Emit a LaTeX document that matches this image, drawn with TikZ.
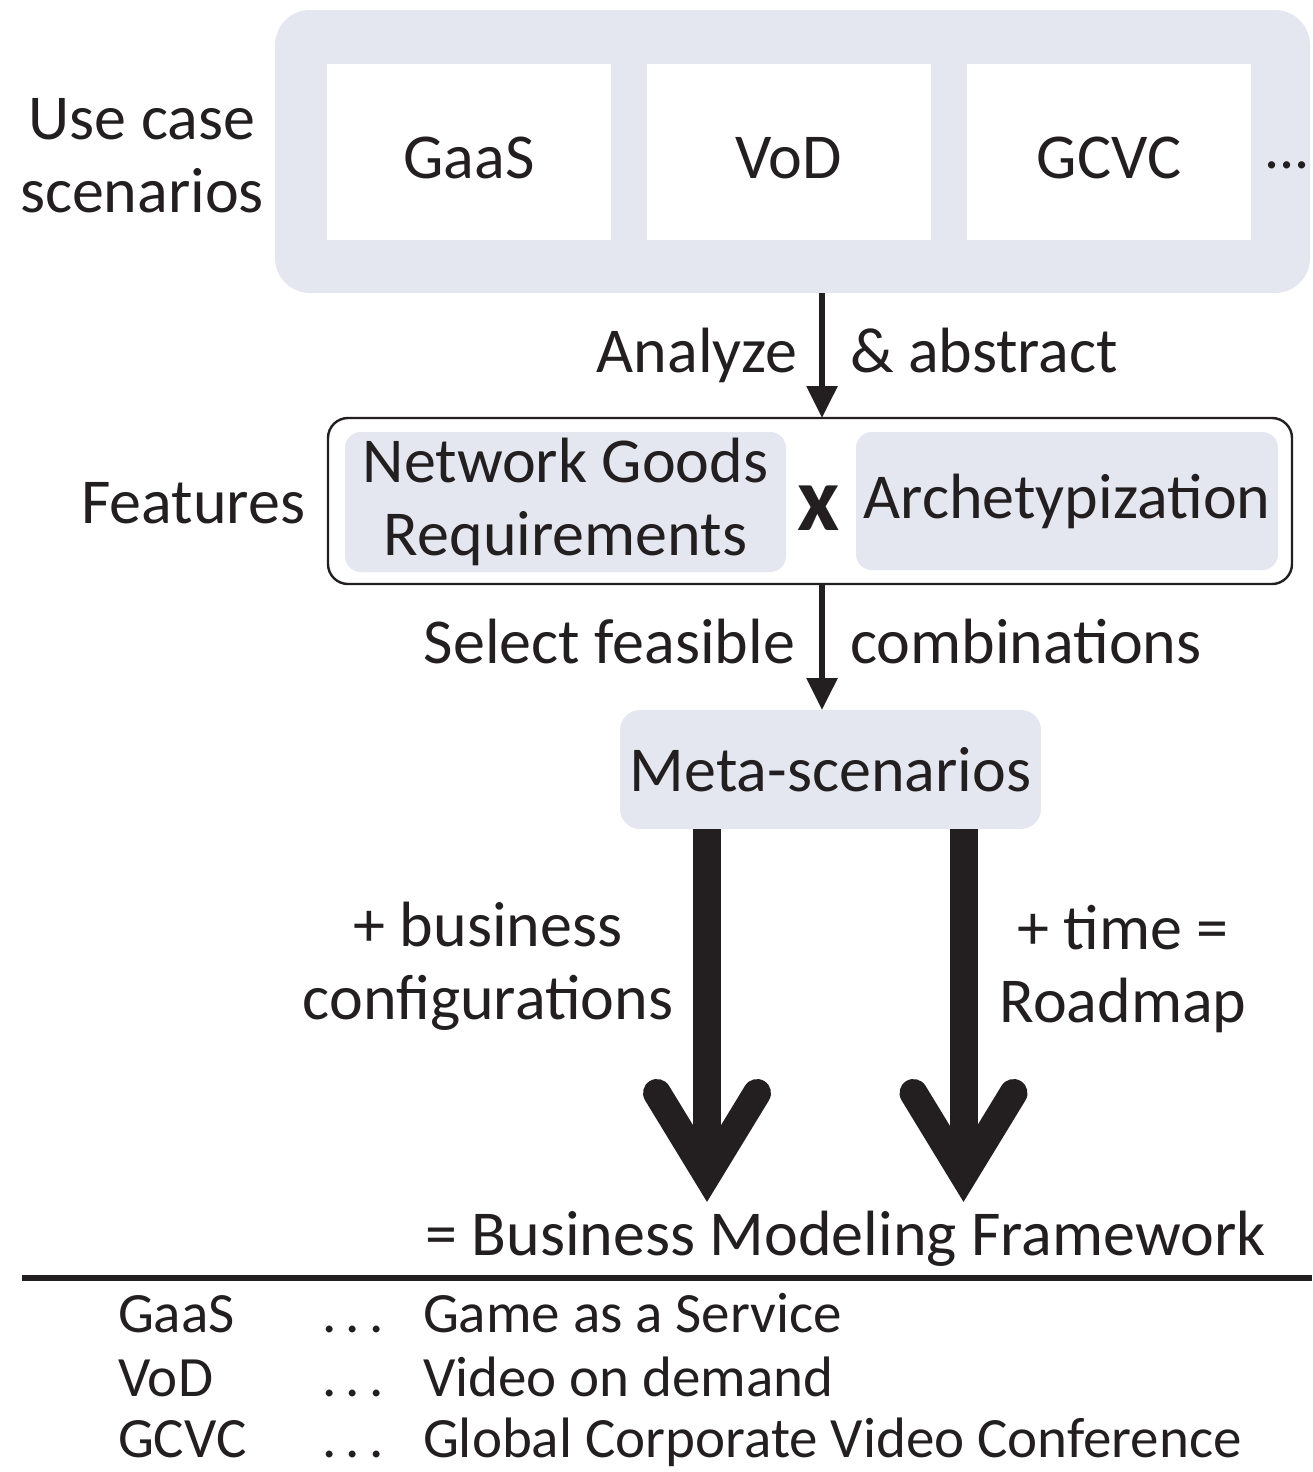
\documentclass[tikz,border=0pt]{standalone}
\usepackage{fontspec}
\setmainfont{Carlito}
\usetikzlibrary{arrows.meta}
\definecolor{ink}{HTML}{231F20}
\definecolor{pane}{HTML}{E4E6F0}

\begin{document}
\begin{tikzpicture}[x=0.5pt,y=-0.5pt,
  every node/.style={text=ink, inner sep=0pt, outer sep=0pt},
  mainfont/.style={font=\fontsize{32}{36.5}\selectfont},
  legendfont/.style={font=\fontsize{28.5}{32}\selectfont},
  casebox/.style={mainfont, fill=white, minimum width=142pt, minimum height=88pt,
    text height=26pt, text depth=0pt},
  panebox/.style={mainfont, fill=pane, rounded corners=8pt, align=center},
  thinarrow/.style={draw=ink, line width=3pt, -{Triangle[length=16pt,width=15pt]}},
  thickshaft/.style={draw=ink, line width=14pt},
  chevron/.style={draw=ink, line width=14pt, line cap=round, line join=miter}]

\useasboundingbox (0,0) rectangle (1312,1472);

% --- use case scenarios ---
\node[fill=pane, rounded corners=17.5pt, minimum width=517.5pt, minimum height=141.5pt]
  (usecases) at (792.5,151.5) {};
\node[casebox] (gaas) at (469,152) {GaaS};
\node[casebox] (vod)  at (788.5,152) {VoD};
\node[casebox] (gcvc) at (1109,152) {GCVC};
\node[font=\fontsize{30}{30}\selectfont, anchor=base] (more) at (1287,168) {...};
\node[mainfont, align=center] (uclabel) at (142,156) {Use case\\scenarios};

% --- features ---
\node[draw=ink, line width=1.2pt, rounded corners=10pt, fill=white,
  minimum width=482pt, minimum height=83pt] (features) at (810,501) {};
\node[panebox, minimum width=220.5pt, minimum height=70pt] (ngr) at (565.5,502)
  {Network Goods\\Requirements};
\node[panebox, minimum width=211pt, minimum height=69pt] (arch) at (1067,501)
  {Archetypization};
\node[font=\bfseries\fontsize{46}{46}\selectfont] (cross) at (819,508) {x};
\node[mainfont, anchor=base east] (featlabel) at (305,523) {Features};

% --- meta-scenarios ---
\node[panebox, rounded corners=10pt, minimum width=210.5pt, minimum height=59.5pt]
  (meta) at (830.5,769.5) {Meta-scenarios};

% --- thin connectors ---
\coordinate (axis) at (822,0);
\draw[thinarrow] (usecases.south -| axis) -- (features.north -| axis);
\draw[thinarrow] (features.south -| axis) -- (meta.north -| axis);
\node[mainfont, anchor=base east] (analyze) at (797,372) {Analyze};
\node[mainfont, anchor=base west] (abstract) at (850,372) {\& abstract};
\node[mainfont, anchor=base east] (select) at (795,663) {Select feasible};
\node[mainfont, anchor=base west] (combine) at (850,663) {combinations};

% --- thick connectors ---
\coordinate (bizend) at (707,1175);
\coordinate (timeend) at (963.5,1175);
\draw[thickshaft] (meta.south -| bizend) -- (bizend);
\draw[chevron] ([shift={(-50,-82)}]bizend) -- (bizend) -- ([shift={(50,-82)}]bizend);
\draw[thickshaft] (meta.south -| timeend) -- (timeend);
\draw[chevron] ([shift={(-50,-82)}]timeend) -- (timeend) -- ([shift={(50,-82)}]timeend);
\node[mainfont, align=center] (bizlabel) at (488,966) {+ business\\configurations};
\node[mainfont, align=center] (timelabel) at (1123,969) {+ time =\\Roadmap};
\node[mainfont, anchor=base] (bmf) at (845.5,1255) {= Business Modeling Framework};

% --- legend ---
\coordinate (ruleL) at (22,1278);
\coordinate (ruleR) at (1312,1278);
\draw[ink, line width=3.3pt] (ruleL) -- (ruleR);
\node[legendfont, anchor=base west] (abbr1) at (118,1332) {GaaS};
\node[legendfont, anchor=base west] (dots1) at (322,1332) {.\,.\,.};
\node[legendfont, anchor=base west] (desc1) at (423,1332) {Game as a Service};
\node[legendfont, anchor=base west] (abbr2) at (118,1396) {VoD};
\node[legendfont, anchor=base west] (dots2) at (322,1396) {.\,.\,.};
\node[legendfont, anchor=base west] (desc2) at (423,1396) {Video on demand};
\node[legendfont, anchor=base west] (abbr3) at (118,1457) {GCVC};
\node[legendfont, anchor=base west] (dots3) at (322,1457) {.\,.\,.};
\node[legendfont, anchor=base west] (desc3) at (423,1457) {Global Corporate Video Conference};
\end{tikzpicture}
\end{document}
